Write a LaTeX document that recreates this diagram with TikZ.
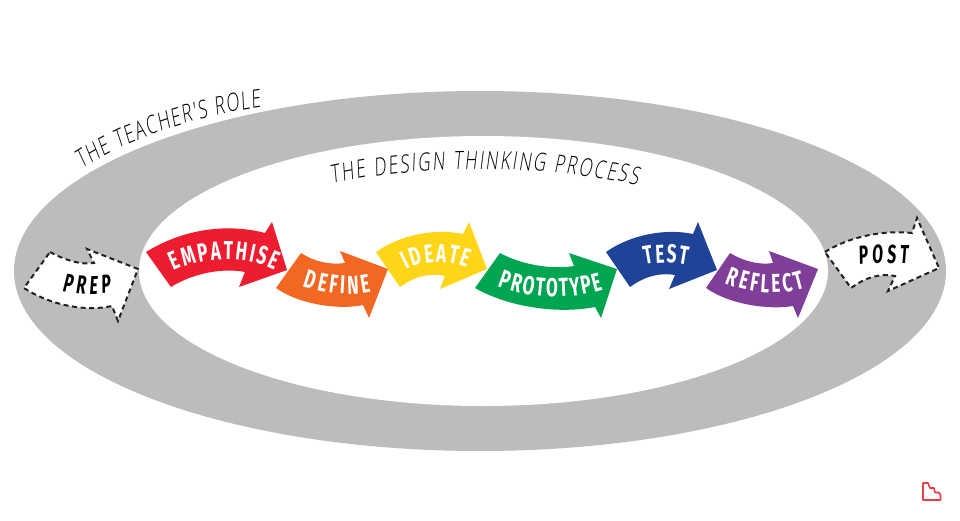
\documentclass[tikz,border=0pt]{standalone}
\usepackage{fontspec}
\usetikzlibrary{decorations.text}
\newfontfamily\bannerfont[FakeStretch=0.66]{Fira Sans Bold}
\newfontfamily\blackfont[FakeStretch=0.6,FakeSlant=0.08]{Fira Sans Bold}
\newfontfamily\handfont[FakeStretch=0.68,FakeSlant=0.12]{Open Sans Light}
\definecolor{ringgray}{HTML}{BBBCBE}
\definecolor{cred}{HTML}{ED1C2E}
\definecolor{corange}{HTML}{F26822}
\definecolor{cyellow}{HTML}{FFD518}
\definecolor{cgreen}{HTML}{00A551}
\definecolor{cblue}{HTML}{1F4397}
\definecolor{cpurple}{HTML}{7F3F98}
\definecolor{logored}{HTML}{EE3A43}
\definecolor{dashk}{HTML}{222222}
\tikzset{
  prepbox/.style={fill=white,draw=dashk,line width=2pt,dash pattern=on 5pt off 3.6pt},
  banner/.style={decorate,decoration={text along path,text align={fit to path},text color=white,text={|\fontsize{26}{26}\bannerfont|#1}}},
  blacklabel/.style={decorate,decoration={text along path,text align={fit to path},text color=black,text={|\fontsize{26}{26}\blackfont|#1}}},
  handlabel/.style={decorate,decoration={text along path,text align={fit to path},text color=black,text={|\fontsize{25}{25}\handfont|#1}}}
}
\begin{document}
\begin{tikzpicture}[x=1pt,y=-1pt]
\useasboundingbox (0,0) rectangle (960,520);
\fill[white] (0,0) rectangle (960,520);
% ring
\fill[ringgray] (480,271) ellipse [x radius=466,y radius=180];
\fill[white] (483.5,271) ellipse [x radius=344.5,y radius=135];
% arrows
\fill[cred] (146,252) .. controls (190,225) and (235,225) .. (265,233) -- (272,222) -- (287,270) -- (239,287) -- (245,272) .. controls (225,268) and (195,272) .. (171,287) -- cycle;
\fill[corange] (276,288) -- (301,253) .. controls (315,262) and (330,265) .. (345,263) -- (340,251) -- (388,269) -- (369,318) -- (363,305) .. controls (340,310) and (300,305) .. (276,288) -- cycle;
\fill[cyellow] (376,252) .. controls (400,235) and (435,228) .. (463,234) -- (469,222) -- (487,269) -- (440,289) -- (445,276) .. controls (428,272) and (412,278) .. (400,287) -- cycle;
\fill[cgreen] (475,288) -- (500,253) .. controls (520,264) and (550,270) .. (574,266) -- (569,253) -- (617,269) -- (601,318) -- (595,307) .. controls (560,314) and (510,308) .. (475,288) -- cycle;
\fill[cblue] (606,252) .. controls (630,235) and (665,228) .. (693,234) -- (698,222) -- (717,270) -- (669,289) -- (675,275) .. controls (658,272) and (642,278) .. (630,287) -- cycle;
\fill[cpurple] (706,288) -- (730,253) .. controls (745,262) and (760,265) .. (773,263) -- (769,251) -- (818,269) -- (798,318) -- (793,306) .. controls (770,310) and (730,305) .. (706,288) -- cycle;
% dashed arrows
\path[prepbox] (50,252) .. controls (65,260) and (80,265) .. (94,263) -- (87,249) -- (138,269) -- (118,321) -- (112,306) .. controls (85,312) and (50,305) .. (24,288) -- cycle;
\path[prepbox] (825,252) .. controls (850,236) and (885,230) .. (912,233) -- (917,218) -- (939,268) -- (888,291) -- (895,276) .. controls (878,273) and (865,278) .. (851,288) -- cycle;
% labels
\path[banner=EMPATHISE] (174,271) .. controls (205,256) and (245,255) .. (275,270);
\path[banner=DEFINE] (303,286) .. controls (322,293) and (348,297) .. (371,292);
\path[banner=IDEATE] (407,270) .. controls (425,260) and (448,260) .. (467,268);
\path[banner=PROTOTYPE] (498,286) .. controls (530,299) and (570,300) .. (603,290);
\path[banner=TEST] (645,265) .. controls (657,262) and (673,262) .. (687,265);
\path[banner=REFLECT] (725,283) .. controls (750,294) and (780,296) .. (805,288);
\path[blacklabel=PREP] (62,291) .. controls (77,294) and (93,295) .. (111,293);
\path[blacklabel=POST] (859,265) .. controls (875,263) and (890,263) .. (908,263);
\path[handlabel={THE TEACHER'S ROLE}] (82,169) .. controls (125,141) and (190,117) .. (261,107);
\path[handlabel={THE DESIGN THINKING PROCESS}] (332,184) .. controls (420,164) and (540,164) .. (637,185);
% logo
\draw[logored,line width=1.6pt,line join=round] (923,483) -- (928,483) -- (930,488) -- (934,488) -- (935,492.5) -- (939,492.5) -- (940.5,495) -- (940.5,500) -- (923,500) -- cycle;
\end{tikzpicture}
\end{document}
